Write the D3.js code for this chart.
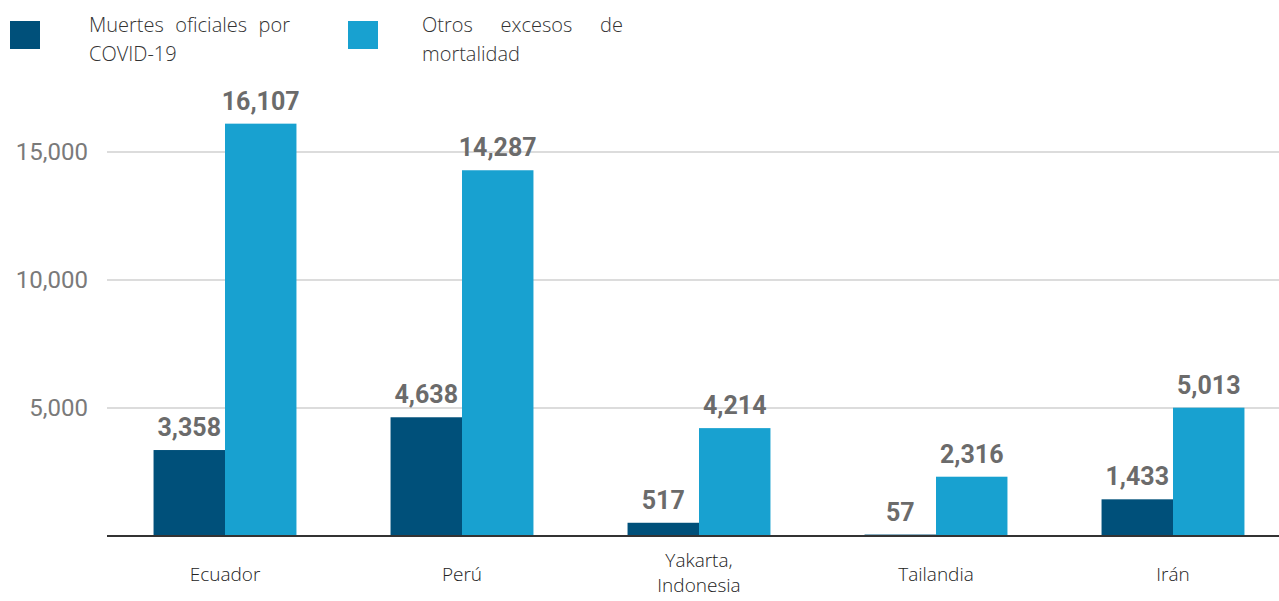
<!DOCTYPE html>
<html>
<head>
<meta charset="utf-8">
<script src="https://cdn.jsdelivr.net/npm/d3@7"></script>
<style>
  body { margin: 0; background: #fff; }
  svg { display: block; }
</style>
</head>
<body>
<svg id="chart" width="1279" height="601"></svg>
<script>
// data
var countries = [["Ecuador"], ["Perú"], ["Yakarta,", "Indonesia"], ["Tailandia"], ["Irán"]];
var officialDeaths = [3358, 4638, 517, 57, 1433];
var otherExcess = [16107, 14287, 4214, 2316, 5013];
var seriesNames = ["Muertes oficiales por COVID-19", "Otros excesos de mortalidad"];
var seriesColors = ["#00507a", "#18a1d0"];
var yTicks = [5000, 10000, 15000];

var svg = d3.select("#chart"),
  margin = { top: 0, left: 106.5 },
  width = 1185,
  baseline = 536;

var keys = countries.map(function (d) { return d.join(" "); });

var x0 = d3.scaleBand().domain(keys)
  .range([margin.left, margin.left + width])
  .paddingInner(0.397).paddingOuter(0.1985);
var x1 = d3.scaleBand().domain([0, 1]).range([0, x0.bandwidth()]);
var y = d3.scaleLinear().domain([0, 15000]).range([baseline, 152]);

var fmt = d3.format(",");

// gridlines
svg.append("g")
  .selectAll("line")
  .data(yTicks)
  .enter().append("line")
  .attr("x1", 107).attr("x2", 1279)
  .attr("y1", function (d) { return y(d); })
  .attr("y2", function (d) { return y(d); })
  .attr("stroke", "#d0d0d0")
  .attr("stroke-width", 1.5);

svg.append("g")
  .selectAll("text")
  .data(yTicks)
  .enter().append("text")
  .attr("x", 88)
  .attr("y", function (d) { return y(d); })
  .attr("dy", "0.35em")
  .attr("text-anchor", "end")
  .attr("font-family", "Roboto")
  .attr("font-size", 24)
  .attr("fill", "#7a7a7a")
  .text(function (d) { return fmt(d); });

// bars
var rows = keys.map(function (k, i) {
  return { key: k, values: [officialDeaths[i], otherExcess[i]] };
});

var groups = svg.append("g")
  .selectAll("g")
  .data(rows)
  .enter().append("g")
  .attr("transform", function (d) { return "translate(" + x0(d.key) + ",0)"; });

groups.selectAll("rect")
  .data(function (d) { return d.values; })
  .enter().append("rect")
  .attr("x", function (d, i) { return x1(i); })
  .attr("y", function (d) { return y(d); })
  .attr("width", x1.bandwidth())
  .attr("height", function (d) { return baseline - y(d); })
  .attr("fill", function (d, i) { return seriesColors[i]; });

groups.selectAll("text")
  .data(function (d) { return d.values; })
  .enter().append("text")
  .attr("x", function (d, i) { return x1(i) + x1.bandwidth() / 2; })
  .attr("y", function (d) { return y(d) - 14; })
  .attr("text-anchor", "middle")
  .attr("font-family", "Roboto")
  .attr("font-weight", "bold")
  .attr("font-size", 25)
  .attr("fill", "#6b6b6b")
  .text(function (d) { return fmt(d); });

// baseline
svg.append("line")
  .attr("x1", 107).attr("x2", 1279)
  .attr("y1", baseline).attr("y2", baseline)
  .attr("stroke", "#333")
  .attr("stroke-width", 2);

// x labels
svg.append("g")
  .selectAll("text")
  .data(countries)
  .enter().append("text")
  .attr("x", function (d, i) { return x0(keys[i]) + x0.bandwidth() / 2; })
  .attr("y", function (d) { return d.length > 1 ? 567 : 581; })
  .attr("text-anchor", "middle")
  .attr("font-family", "Open Sans")
  .attr("font-weight", 300)
  .attr("font-size", 19)
  .attr("fill", "#222")
  .each(function (d) {
    var t = d3.select(this);
    d.forEach(function (line, j) {
      t.append("tspan")
        .attr("x", t.attr("x"))
        .attr("dy", j === 0 ? 0 : 25)
        .text(line);
    });
  });

// legend with justified first line
var legendItems = [
  { sw: 10, tx: 89, right: 290, lines: ["Muertes oficiales por", "COVID-19"] },
  { sw: 348, tx: 422, right: 623, lines: ["Otros excesos de", "mortalidad"] }
];

legendItems.forEach(function (item, i) {
  svg.append("rect")
    .attr("x", item.sw).attr("y", 21)
    .attr("width", 30).attr("height", 28)
    .attr("fill", seriesColors[i]);

  var words = item.lines[0].split(" ");
  var nodes = words.map(function (w) {
    return svg.append("text")
      .attr("y", 32)
      .attr("font-family", "Open Sans")
      .attr("font-weight", 300)
      .attr("font-size", 20)
      .attr("fill", "#333")
      .text(w);
  });
  var widths = nodes.map(function (n) { return n.node().getComputedTextLength(); });
  var gap = (item.right - item.tx - d3.sum(widths)) / (words.length - 1);
  var cx = item.tx;
  nodes.forEach(function (n, j) {
    n.attr("x", cx);
    cx += widths[j] + gap;
  });

  svg.append("text")
    .attr("x", item.tx).attr("y", 61)
    .attr("font-family", "Open Sans")
    .attr("font-weight", 300)
    .attr("font-size", 20)
    .attr("fill", "#333")
    .text(item.lines[1]);
});
</script>
</body>
</html>
